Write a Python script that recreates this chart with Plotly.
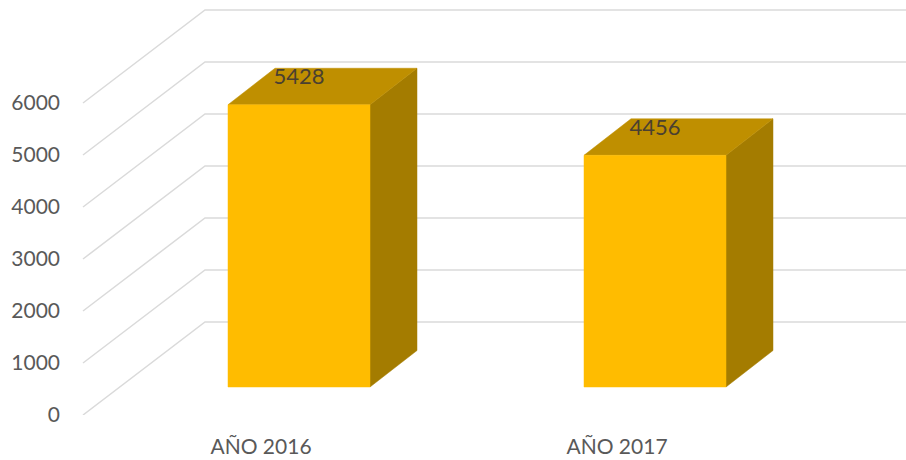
import plotly.graph_objects as go

categories = ["AÑO 2016", "AÑO 2017"]
values = [5428, 4456]
y_ticks = [0, 1000, 2000, 3000, 4000, 5000, 6000]

PX_PER_CAT = 356.0
PX_PER_VAL = 0.052
def ux(px): return px / PX_PER_CAT
def uy(px): return px / PX_PER_VAL

WALL_DX, WALL_DY = ux(122), uy(93)
BAR_OFF_X, BAR_OFF_Y = ux(38), uy(28)
BAR_HALF = ux(71)
BAR_DX, BAR_DY = ux(47), uy(36.5)
RIGHT = (906 - 261) / PX_PER_CAT
LEFT = (66 - 261) / PX_PER_CAT
X_WALL0 = ux(83 - 261)

GRID = "#DADADA"
FRONT, TOP, SIDE = "#FFBC00", "#BF8F00", "#A47C00"
TEXT = "#595959"

fig = go.Figure()

# grid on back wall and side wall
for t in y_ticks:
    fig.add_trace(go.Scatter(
        x=[X_WALL0, X_WALL0 + WALL_DX, RIGHT], y=[t, t + WALL_DY, t + WALL_DY],
        mode="lines", line=dict(color=GRID, width=1.5), hoverinfo="skip", showlegend=False))

def poly(xs, ys, color):
    fig.add_trace(go.Scatter(x=xs, y=ys, mode="lines", fill="toself", fillcolor=color,
                             line=dict(color=color, width=0.5), hoverinfo="skip", showlegend=False))

for i, v in enumerate(values):
    l, r = i + BAR_OFF_X - BAR_HALF, i + BAR_OFF_X + BAR_HALF
    b, t = BAR_OFF_Y, BAR_OFF_Y + v
    poly([r, r + BAR_DX, r + BAR_DX, r, r], [b, b + BAR_DY, t + BAR_DY, t, b], SIDE)
    poly([l, r, r + BAR_DX, l + BAR_DX, l], [t, t, t + BAR_DY, t + BAR_DY, t], TOP)
    poly([l, r, r, l, l], [b, b, t, t, b], FRONT)

fig.add_trace(go.Scatter(
    x=[i + BAR_OFF_X for i in range(len(values))],
    y=[BAR_OFF_Y + v + BAR_DY / 2 + uy(8) for v in values],
    text=[str(v) for v in values], mode="text",
    textfont=dict(family="Lato", size=22, color="#4A4030"),
    hoverinfo="skip", showlegend=False))

fig.update_layout(
    width=906, height=460, autosize=False,
    margin=dict(l=66, r=0, t=0, b=45),
    paper_bgcolor="white", plot_bgcolor="white",
    font=dict(family="Lato", size=21, color=TEXT),
    xaxis=dict(range=[LEFT, RIGHT], tickvals=list(range(len(categories))), ticktext=categories,
               showgrid=False, zeroline=False, showline=False, ticks="", ticklabelstandoff=17),
    yaxis=dict(range=[0, 415 / PX_PER_VAL], tickvals=y_ticks, showgrid=False, zeroline=False,
               showline=False, ticks="", ticklabelstandoff=5, tickformat="d"),
)
fig.write_html("out.html", config={"displayModeBar": False},
               post_script="document.body.style.margin='0';document.documentElement.style.overflow='hidden';")
